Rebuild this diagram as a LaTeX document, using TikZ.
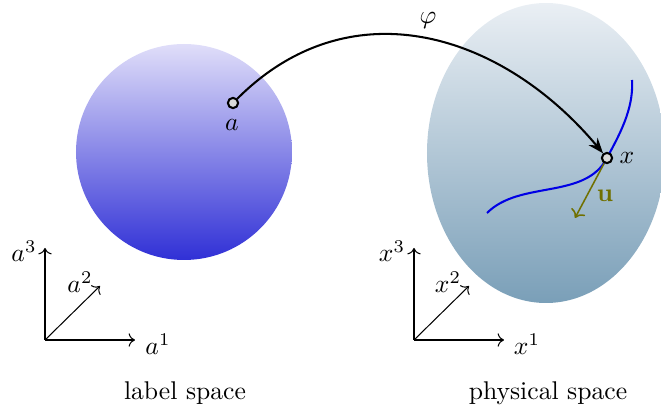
\documentclass[tikz,border=0pt]{standalone}
\usepackage{amsmath}
\usepackage{amssymb}
\usepackage{tikz}
\usetikzlibrary{arrows.meta}

\definecolor{lavtop}{RGB}{224,222,249}
\definecolor{lavbot}{RGB}{48,48,214}
\definecolor{phystop}{RGB}{234,239,244}
\definecolor{physbot}{RGB}{122,159,184}
\definecolor{uolive}{RGB}{112,112,0}

\begin{document}
\begin{tikzpicture}[x=0.39pt, y=-0.39pt,
    pt/.style = {draw, circle, thick, fill=black!15, inner sep=0pt, minimum size=4pt},
    axis/.style = {->}]
        \useasboundingbox (0,0) rectangle (661,411);
        % the two spaces
        \shade[top color=lavtop, bottom color=lavbot] (184,152) circle [radius=108];
        \shade[top color=phystop, bottom color=physbot] (546,153) ellipse [x radius=119, y radius=150];
        \coordinate (pa) at (233,103);
        \coordinate (px) at (607,158);
        \coordinate (c0) at (487,213);
        \coordinate (c1) at (632,80);
        \coordinate (ue) at (575,218);
        % curve through x
        \draw[blue!90!black, thick] (c0) .. controls (520,180) and (585,200) .. (px)
              .. controls (618,137) and (634,110) .. (c1);
        \node[pt] (a) at (pa) {};
        \node[pt] (x) at (px) {};
        \node (la) at (232,125) {$a$};
        \node (lx) at (627,158) {$x$};
        \draw[-{Stealth[length=6pt]}, thick] (a) to[out=45, in=130, looseness=1.1] (x);
        \node (phi) at (428,20) {$\varphi$};
        \draw[->, uolive, semithick] (x) -- (ue);
        \node[text=uolive] (u) at (605,196) {$\mathbf{u}$};
        % axes
        \coordinate (oa) at (45,340);
        \coordinate (oa1) at (135,340);
        \coordinate (oa2) at (100,286);
        \coordinate (oa3) at (45,248);
        \draw[axis] (oa) -- (oa1);
        \draw[axis] (oa) -- (oa2);
        \draw[axis] (oa) -- (oa3);
        \node (a1) at (158,344) {$a^1$};
        \node (a2) at (80,282) {$a^2$};
        \node (a3) at (24,251) {$a^3$};
        \coordinate (ox) at (414,340);
        \coordinate (ox1) at (504,340);
        \coordinate (ox2) at (469,286);
        \coordinate (ox3) at (414,248);
        \draw[axis] (ox) -- (ox1);
        \draw[axis] (ox) -- (ox2);
        \draw[axis] (ox) -- (ox3);
        \node (x1) at (527,344) {$x^1$};
        \node (x2) at (448,282) {$x^2$};
        \node (x3) at (392,251) {$x^3$};
        \node (lab) at (185,393) {label space};
        \node (phys) at (548,393) {physical space};
      \end{tikzpicture}
\end{document}
